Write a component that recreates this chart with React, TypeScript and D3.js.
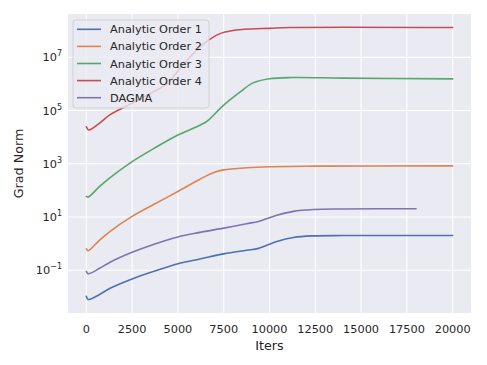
import React from "react";
import * as d3 from "d3";

// iterations at which values were read, per series
const itersOrder1 = [0, 100, 700, 1300, 2500, 3700, 5000, 6200, 7500, 8750, 9400, 10400, 11300, 12400, 14000, 17000, 20000];
const order1 = [1.05e-2, 7.9e-3, 1.2e-2, 2.1e-2, 4.7e-2, 9.1e-2, 0.174, 0.263, 0.41, 0.56, 0.66, 1.2, 1.7, 1.95, 2.0, 2.0, 2.0];

const itersOrder2 = [0, 100, 700, 1300, 2500, 3700, 5000, 6200, 7000, 7500, 8750, 10000, 12500, 20000];
const order2 = [0.63, 0.54, 1.3, 2.9, 10.5, 30, 91, 263, 479, 589, 708, 776, 813, 832];

const itersOrder3 = [0, 100, 700, 1300, 2500, 3700, 5000, 6200, 6600, 7500, 8400, 9100, 10000, 11300, 14000, 20000];
const order3 = [59, 56, 135, 300, 1200, 3800, 1.2e4, 2.8e4, 4.0e4, 1.6e5, 5.0e5, 1.1e6, 1.58e6, 1.74e6, 1.66e6, 1.55e6];

const itersOrder4 = [0, 130, 760, 1300, 2500, 3500, 4400, 4900, 5500, 6400, 7300, 8000, 9000, 10000, 11100, 20000];
const order4 = [2.45e4, 1.86e4, 3.5e4, 7.0e4, 1.9e5, 4.4e5, 1.0e6, 2.5e6, 7.8e6, 3.2e7, 7.8e7, 1.02e8, 1.17e8, 1.23e8, 1.32e8, 1.32e8];

const itersDagma = [0, 100, 700, 1300, 2500, 3700, 5000, 6200, 7500, 8750, 9400, 10400, 11300, 12400, 14000, 18000];
const dagma = [0.091, 0.074, 0.115, 0.2, 0.47, 0.95, 1.78, 2.63, 3.8, 5.6, 6.8, 11.5, 16.2, 19, 20, 20.4];

const seriesNames = ["Analytic Order 1", "Analytic Order 2", "Analytic Order 3", "Analytic Order 4", "DAGMA"];
const xTicks = [0, 2500, 5000, 7500, 10000, 12500, 15000, 17500, 20000];
const yTickExps = [-1, 1, 3, 5, 7];

const colors = ["#4C72B0", "#DD8452", "#55A868", "#C44E52", "#8172B3"];

const W = 487;
const H = 365;
const margin = { top: 14, right: 16, bottom: 52, left: 68 };
const font = "DejaVu Sans, sans-serif";

export default function App() {
  const x = d3.scaleLinear().domain([-1000, 21000]).range([margin.left, W - margin.right]);
  const y = d3.scaleLog().domain([Math.pow(10, -2.61), Math.pow(10, 8.63)]).range([H - margin.bottom, margin.top]);

  const series = [
    { iters: itersOrder1, vals: order1 },
    { iters: itersOrder2, vals: order2 },
    { iters: itersOrder3, vals: order3 },
    { iters: itersOrder4, vals: order4 },
    { iters: itersDagma, vals: dagma },
  ];

  const line = d3
    .line<[number, number]>()
    .x((d) => x(d[0]))
    .y((d) => y(d[1]))
    .curve(d3.curveCatmullRom.alpha(0.5));

  const plotW = W - margin.left - margin.right;
  const plotH = H - margin.top - margin.bottom;

  // legend layout
  const lgX = 73;
  const lgY = 20;
  const lgRow = 17.1;

  return (
    <svg width={W} height={H} style={{ position: "absolute", left: 0, top: 0, background: "#fff" }} fontFamily={font}>
      <rect x={margin.left} y={margin.top} width={plotW} height={plotH} fill="#EAEAF2" />
      {/* grid */}
      {xTicks.map((t) => (
        <line key={"gx" + t} x1={x(t)} x2={x(t)} y1={margin.top} y2={H - margin.bottom} stroke="#fff" strokeWidth={1.05} />
      ))}
      {yTickExps.map((e) => (
        <line key={"gy" + e} x1={margin.left} x2={W - margin.right} y1={y(Math.pow(10, e))} y2={y(Math.pow(10, e))} stroke="#fff" strokeWidth={1.05} />
      ))}
      {/* series */}
      {series.map((s, i) => (
        <path
          key={i}
          d={line(s.iters.map((it, j) => [it, s.vals[j]] as [number, number])) || ""}
          fill="none"
          stroke={colors[i]}
          strokeWidth={1.6}
          strokeLinejoin="round"
          strokeLinecap="round"
        />
      ))}
      {/* x tick labels */}
      {xTicks.map((t) => (
        <text key={"tx" + t} x={x(t)} y={333} textAnchor="middle" fontSize={11.3} fill="#262626">
          {t}
        </text>
      ))}
      {/* y tick labels */}
      {yTickExps.map((e) => (
        <text key={"ty" + e} x={62} y={y(Math.pow(10, e)) + 4} textAnchor="end" fontSize={11.3} fill="#262626">
          10
          <tspan dy={-5} fontSize={8}>
            {e < 0 ? "\u2212" + Math.abs(e) : String(e)}
          </tspan>
        </text>
      ))}
      <text x={(margin.left + W - margin.right) / 2} y={350} textAnchor="middle" fontSize={12.7} fill="#262626">
        Iters
      </text>
      <text transform={`translate(23,${(margin.top + H - margin.bottom) / 2}) rotate(-90)`} textAnchor="middle" fontSize={12.7} fill="#262626">
        Grad Norm
      </text>
      {/* legend */}
      <rect x={lgX} y={lgY} width={136} height={88} rx={3} fill="#EAEAF2" fillOpacity={0.8} stroke="#cccccc" strokeOpacity={0.8} strokeWidth={1} />
      {seriesNames.map((n, i) => {
        const cy = lgY + 9.3 + i * lgRow;
        return (
          <g key={n}>
            <line x1={77} x2={101} y1={cy} y2={cy} stroke={colors[i]} strokeWidth={1.6} />
            <text x={110} y={cy + 4} fontSize={11.3} fill="#262626">
              {n}
            </text>
          </g>
        );
      })}
    </svg>
  );
}
